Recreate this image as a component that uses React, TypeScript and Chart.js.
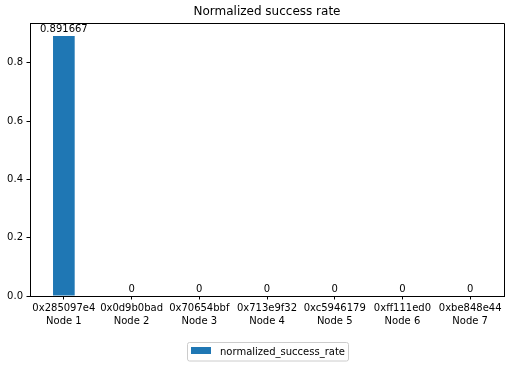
import React, { useEffect, useRef } from "react";
import { Chart, registerables } from "chart.js";

Chart.register(...registerables);

const nodeIds = ["0x285097e4", "0x0d9b0bad", "0x70654bbf", "0x713e9f32", "0xc5946179", "0xff111ed0", "0xbe848e44"];
const nodeNames = ["Node 1", "Node 2", "Node 3", "Node 4", "Node 5", "Node 6", "Node 7"];
const successRate = [0.891667, 0, 0, 0, 0, 0, 0];
const seriesName = "normalized_success_rate";
const chartTitle = "Normalized success rate";
const yTicks = [0, 0.2, 0.4, 0.6, 0.8];

const FONT = "DejaVu Sans";
const BLUE = "#1f77b4";

const overlay = {
  id: "overlay",
  afterDatasetsDraw(chart: any) {
    const ctx = chart.ctx;
    const a = chart.chartArea;
    ctx.save();
    // frame (top & right spines)
    ctx.strokeStyle = "#000";
    ctx.lineWidth = 1;
    ctx.beginPath();
    ctx.moveTo(a.left, a.top + 0.5);
    ctx.lineTo(a.right + 0.5, a.top + 0.5);
    ctx.lineTo(a.right + 0.5, a.bottom);
    ctx.stroke();
    // bar labels
    ctx.fillStyle = "#000";
    ctx.font = `10px "${FONT}"`;
    ctx.textAlign = "center";
    ctx.textBaseline = "alphabetic";
    const meta = chart.getDatasetMeta(0);
    meta.data.forEach((bar: any, i: number) => {
      ctx.fillText(String(successRate[i]), bar.x, bar.y - 4);
    });
    // title
    ctx.font = `12px "${FONT}"`;
    ctx.textBaseline = "middle";
    ctx.fillText(chartTitle, (a.left + a.right) / 2, 12);
    // legend
    const lx = 187.5, ly = 342.5, lw = 161, lh = 18.5;
    ctx.strokeStyle = "#cccccc";
    ctx.beginPath();
    if (ctx.roundRect) ctx.roundRect(lx, ly, lw, lh, 2);
    else ctx.rect(lx, ly, lw, lh);
    ctx.stroke();
    ctx.fillStyle = BLUE;
    ctx.fillRect(191, 347, 20, 7);
    ctx.fillStyle = "#000";
    ctx.font = `10px "${FONT}"`;
    ctx.textAlign = "left";
    ctx.fillText(seriesName, 220, 352);
    ctx.restore();
  },
};

export default function App() {
  const ref = useRef<HTMLCanvasElement>(null);
  useEffect(() => {
    const chart = new Chart(ref.current!, {
      type: "bar",
      data: {
        labels: nodeIds.map((id, i) => [id, nodeNames[i]]),
        datasets: [
          {
            label: seriesName,
            data: successRate,
            backgroundColor: BLUE,
            barPercentage: 0.32,
            categoryPercentage: 1,
          },
        ],
      },
      options: {
        responsive: false,
        animation: false,
        layout: { padding: { top: 23, left: 0, right: 8, bottom: 0 } },
        plugins: { legend: { display: false }, title: { display: false }, tooltip: { enabled: false } },
        scales: {
          x: {
            offset: true,
            grid: { drawOnChartArea: false, drawTicks: true, tickLength: 3.5, tickColor: "#000", offset: false },
            border: { display: true, color: "#000" },
            ticks: { color: "#000", font: { family: FONT, size: 10, lineHeight: 1.3 }, padding: 2, maxRotation: 0, autoSkip: false },
            afterFit: (s: any) => { s.height = 72; },
          },
          y: {
            min: 0,
            max: 0.93625,
            grid: { drawOnChartArea: false, drawTicks: true, tickLength: 3.5, tickColor: "#000" },
            border: { display: true, color: "#000" },
            afterBuildTicks: (s: any) => { s.ticks = yTicks.map((v) => ({ value: v })); },
            ticks: {
              color: "#000",
              font: { family: FONT, size: 10 },
              padding: 3.5,
              callback: (v: any) => Number(v).toFixed(1),
            },
            afterFit: (s: any) => { s.width = 30; },
          },
        },
      },
      plugins: [overlay],
    });
    return () => chart.destroy();
  }, []);
  return (
    <div style={{ position: "absolute", left: 0, top: 0, width: 512, height: 368, background: "#fff" }}>
      <canvas ref={ref} width={512} height={368} style={{ display: "block" }} />
    </div>
  );
}
